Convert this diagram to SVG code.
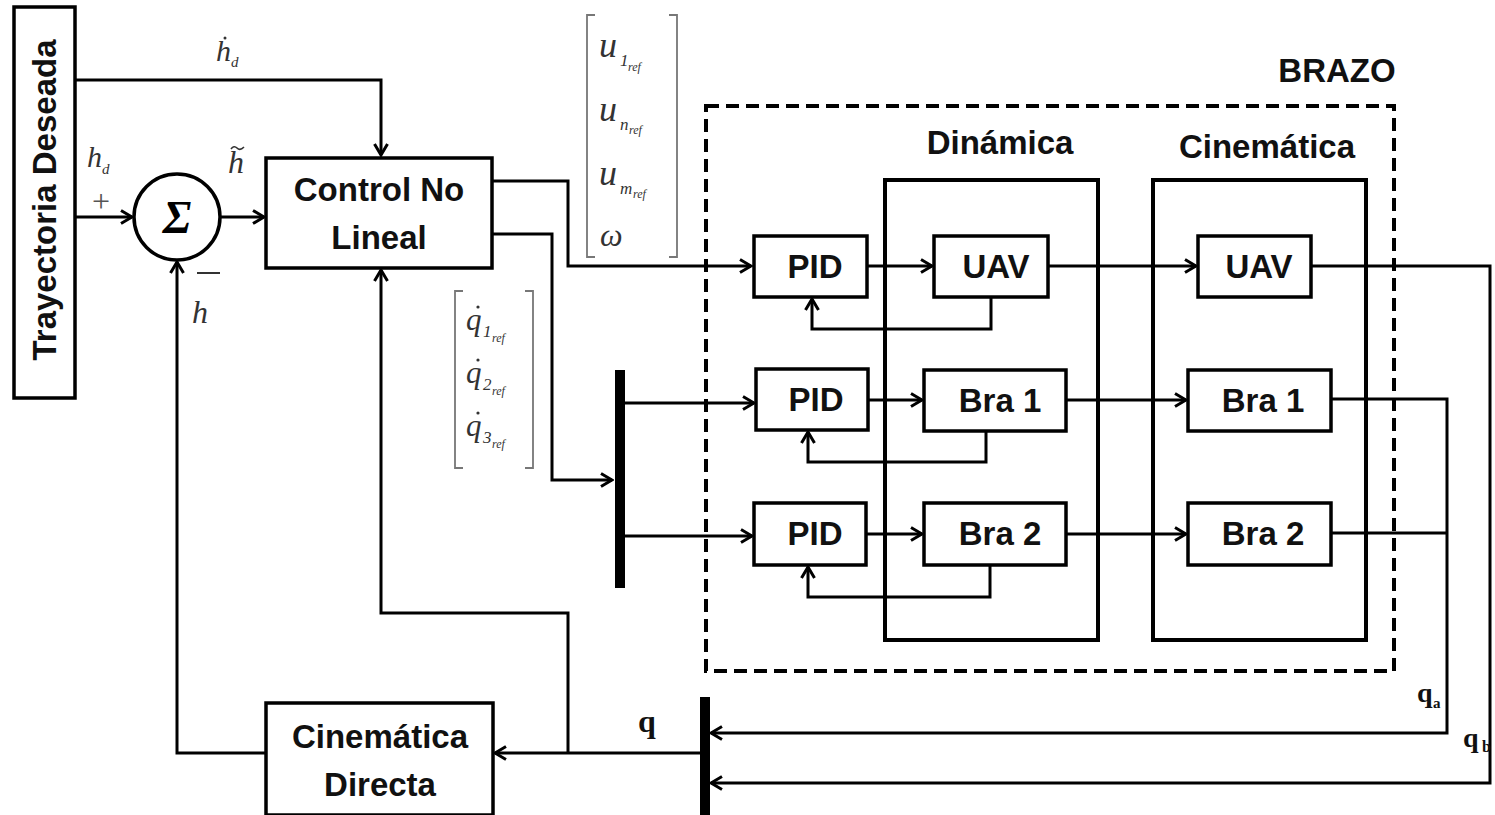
<svg xmlns="http://www.w3.org/2000/svg" width="1495" height="815" viewBox="0 0 1495 815">
<style>
.box{fill:#fff;stroke:#000;stroke-width:3.5}
.grp{fill:none;stroke:#000;stroke-width:4}
.lbl{font-family:"Liberation Sans",Arial,sans-serif;font-weight:bold;font-size:33px;fill:#111;text-anchor:middle}
.math{font-family:"Liberation Serif","Times New Roman",serif;font-style:italic;fill:#333}
.bq{font-family:"Liberation Serif","Times New Roman",serif;font-weight:bold;fill:#111}
.c{fill:none;stroke:#000;stroke-width:3}
.a{marker-end:url(#arr)}
.brk{fill:none;stroke:#777;stroke-width:1.8}
</style>
<defs>
<marker id="arr" markerUnits="userSpaceOnUse" markerWidth="16" markerHeight="16" viewBox="0 0 16 16" refX="14" refY="8" orient="auto">
<path d="M3,1.5 L14,8 L3,14.5" fill="none" stroke="#000" stroke-width="3"/>
</marker>
</defs>

<g id="connectors">
<path class="c a" d="M75,80 H381 V155"/>
<path class="c a" d="M75,217 H132"/>
<path class="c a" d="M220,217 H264"/>
<path class="c a" d="M492,181 H568 V266 H751"/>
<path class="c a" d="M492,234 H552 V480 H612"/>
<path class="c a" d="M625,403 H754"/>
<path class="c a" d="M625,536 H752"/>
<path class="c a" d="M867,266 H932"/>
<path class="c a" d="M868,400 H922"/>
<path class="c a" d="M866,534 H922"/>
<path class="c a" d="M1048,266 H1196"/>
<path class="c a" d="M1066,400 H1186"/>
<path class="c a" d="M1066,534 H1186"/>
<path class="c a" d="M991,297 V329 H812 V299"/>
<path class="c a" d="M986,431 V462 H808 V432"/>
<path class="c a" d="M990,565 V597 H808 V567"/>
<path class="c a" d="M1311,266 H1490 V783 H711"/>
<path class="c a" d="M1331,399 H1447 V733 H711"/>
<path class="c" d="M1331,533 H1447"/>
<path class="c a" d="M700,753 H495"/>
<path class="c a" d="M568,753 V613 H381 V270"/>
<path class="c a" d="M266,753 H177 V262"/>
</g>

<g id="brazo">
<rect x="706" y="106" width="688" height="565" fill="none" stroke="#000" stroke-width="4" stroke-dasharray="13 7"/>
<text class="lbl" x="1337" y="82" font-size="30">BRAZO</text>
</g>
<g id="dinamica">
<rect class="grp" x="885" y="180" width="213" height="460"/>
<text class="lbl" x="1000" y="154">Dinámica</text>
</g>
<g id="cinematica">
<rect class="grp" x="1153" y="180" width="213" height="460"/>
<text class="lbl" x="1267" y="158">Cinemática</text>
</g>

<g id="trayectoria">
<rect class="box" x="14" y="7" width="61" height="391"/>
<text class="lbl" transform="translate(56,200) rotate(-90)" font-size="34">Trayectoria Deseada</text>
</g>

<g id="suma">
<circle cx="177" cy="217" r="43" fill="#fff" stroke="#000" stroke-width="3.5"/>
<text x="177" y="233" text-anchor="middle" font-family="'Liberation Serif','Times New Roman',serif" font-weight="bold" font-style="italic" font-size="46" fill="#000">Σ</text>
</g>

<g id="control">
<rect class="box" x="266" y="158" width="226" height="110"/>
<text class="lbl" x="379" y="201">Control No</text>
<text class="lbl" x="379" y="249">Lineal</text>
</g>

<g id="cin-directa">
<rect class="box" x="266" y="703" width="227" height="112"/>
<text class="lbl" x="380" y="748">Cinemática</text>
<text class="lbl" x="380" y="796">Directa</text>
</g>

<g id="bar1"><rect x="615" y="370" width="10" height="218" fill="#000"/></g>
<g id="bar2"><rect x="700" y="697" width="10" height="118" fill="#000"/></g>

<g id="pid1"><rect class="box" x="754" y="236" width="113" height="61"/><text class="lbl" x="815" y="278">PID</text></g>
<g id="pid2"><rect class="box" x="756" y="369" width="112" height="61"/><text class="lbl" x="816" y="411">PID</text></g>
<g id="pid3"><rect class="box" x="754" y="503" width="112" height="62"/><text class="lbl" x="815" y="545">PID</text></g>

<g id="uav-dyn"><rect class="box" x="934" y="236" width="114" height="61"/><text class="lbl" x="996" y="278">UAV</text></g>
<g id="bra1-dyn"><rect class="box" x="924" y="370" width="142" height="61"/><text class="lbl" x="1000" y="412">Bra 1</text></g>
<g id="bra2-dyn"><rect class="box" x="924" y="503" width="142" height="62"/><text class="lbl" x="1000" y="545">Bra 2</text></g>

<g id="uav-cin"><rect class="box" x="1198" y="236" width="113" height="61"/><text class="lbl" x="1259" y="278">UAV</text></g>
<g id="bra1-cin"><rect class="box" x="1188" y="370" width="143" height="61"/><text class="lbl" x="1263" y="412">Bra 1</text></g>
<g id="bra2-cin"><rect class="box" x="1188" y="503" width="143" height="62"/><text class="lbl" x="1263" y="545">Bra 2</text></g>

<g id="labels">
<text class="math" x="216" y="61" font-size="30">h</text>
<circle cx="225" cy="38" r="1.5" fill="#333"/>
<text class="math" x="231" y="67" font-size="15">d</text>
<text class="math" x="87" y="167" font-size="30">h</text>
<text class="math" x="102" y="174" font-size="15">d</text>
<text x="101" y="212" text-anchor="middle" font-family="'Liberation Serif',serif" font-size="32" fill="#555">+</text>
<text class="math" x="228" y="173" font-size="32">h</text>
<path d="M231,149 q3,-4 6,-1 t7,-1" fill="none" stroke="#333" stroke-width="1.6"/>
<line x1="197" y1="273" x2="220" y2="273" stroke="#333" stroke-width="2"/>
<text class="math" x="192" y="323" font-size="32">h</text>
<path class="brk" d="M595,15 H587 V257 H595"/>
<path class="brk" d="M669,15 H677 V257 H669"/>
<text class="math" x="599" y="57" font-size="36">u</text>
<text class="math" x="620" y="66" font-size="17" font-style="normal">1</text>
<text class="math" x="628" y="71" font-size="12">ref</text>
<text class="math" x="599" y="121" font-size="36">u</text>
<text class="math" x="620" y="130" font-size="17">n</text>
<text class="math" x="629" y="134" font-size="12">ref</text>
<text class="math" x="599" y="185" font-size="36">u</text>
<text class="math" x="620" y="194" font-size="17">m</text>
<text class="math" x="633" y="198" font-size="12">ref</text>
<text class="math" x="600" y="246" font-size="32">ω</text>
<path class="brk" d="M463,291 H455 V468 H463"/>
<path class="brk" d="M525,291 H533 V468 H525"/>
<text class="math" x="466" y="330" font-size="31">q</text>
<circle cx="478" cy="307" r="1.6" fill="#333"/>
<text class="math" x="483" y="337" font-size="17" font-style="normal">1</text>
<text class="math" x="492" y="342" font-size="12">ref</text>
<text class="math" x="466" y="383" font-size="31">q</text>
<circle cx="478" cy="360" r="1.6" fill="#333"/>
<text class="math" x="483" y="390" font-size="17" font-style="normal">2</text>
<text class="math" x="492" y="395" font-size="12">ref</text>
<text class="math" x="466" y="436" font-size="31">q</text>
<circle cx="478" cy="413" r="1.6" fill="#333"/>
<text class="math" x="483" y="443" font-size="17" font-style="normal">3</text>
<text class="math" x="492" y="448" font-size="12">ref</text>
<text class="bq" x="638" y="732" font-size="32">q</text>
<text class="bq" x="1417" y="702" font-size="28">q</text>
<text class="bq" x="1433" y="708" font-size="15" fill="#333">a</text>
<text class="bq" x="1463" y="747" font-size="28">q</text>
<text class="bq" x="1482" y="752" font-size="16" fill="#666">b</text>
</g>
</svg>
